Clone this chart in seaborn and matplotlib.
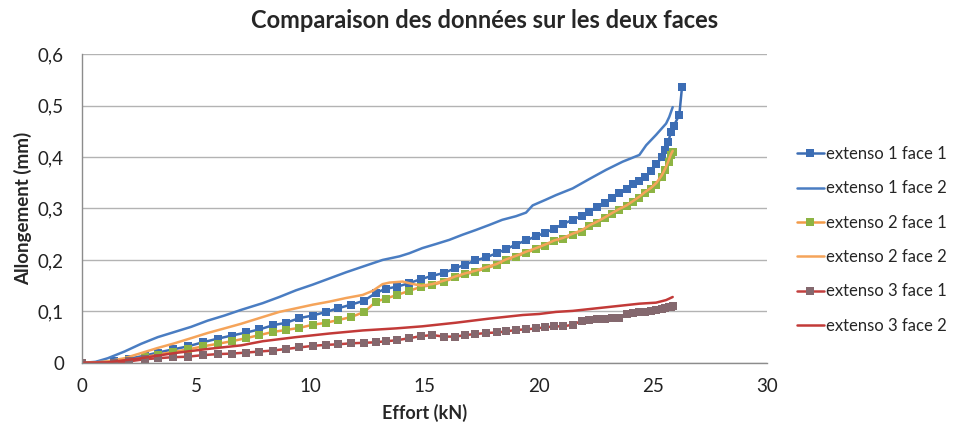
import matplotlib
matplotlib.use("Agg")
import matplotlib.pyplot as plt
from matplotlib.ticker import FuncFormatter
from matplotlib.lines import Line2D
import seaborn as sns
import pandas as pd

# Effort (kN) at each reading of the face-1 gauges
effort_face1 = [0, 1.42, 2.08, 2.74, 3.32, 3.97, 4.63, 5.29, 5.94, 6.55, 7.19, 7.77,
                8.35, 8.94, 9.52, 10.10, 10.69, 11.20, 11.78, 12.36, 12.87, 13.30,
                13.80, 14.33, 14.85, 15.33, 15.86, 16.35, 16.78, 17.22, 17.69, 18.15,
                18.56, 19.00, 19.44, 19.88, 20.28, 20.68, 21.07, 21.48, 21.89, 22.20,
                22.53, 22.90, 23.20, 23.52, 23.84, 24.14, 24.40, 24.65, 24.91, 25.15,
                25.39, 25.54, 25.68, 25.78, 25.86]
effort_ext1_face1 = effort_face1[:-5] + [25.39, 25.54, 25.67, 25.78, 25.90, 26.15, 26.27]

ext1_face1 = [0, 0.003, 0.008, 0.014, 0.020, 0.026, 0.032, 0.040, 0.047, 0.053, 0.059,
              0.065, 0.073, 0.078, 0.087, 0.092, 0.099, 0.106, 0.113, 0.121, 0.136,
              0.144, 0.148, 0.155, 0.163, 0.169, 0.175, 0.184, 0.191, 0.199, 0.205,
              0.213, 0.221, 0.230, 0.238, 0.246, 0.253, 0.261, 0.270, 0.278, 0.286,
              0.294, 0.302, 0.311, 0.320, 0.330, 0.338, 0.347, 0.354, 0.361, 0.372,
              0.386, 0.400, 0.414, 0.430, 0.448, 0.460, 0.482, 0.537]

ext2_face1 = [0, 0.000, 0.005, 0.011, 0.016, 0.021, 0.026, 0.032, 0.037, 0.042, 0.048,
              0.054, 0.060, 0.064, 0.068, 0.074, 0.078, 0.083, 0.089, 0.099, 0.119,
              0.125, 0.132, 0.140, 0.148, 0.151, 0.158, 0.166, 0.172, 0.177, 0.184,
              0.190, 0.199, 0.206, 0.214, 0.221, 0.228, 0.236, 0.240, 0.249, 0.255,
              0.265, 0.272, 0.281, 0.289, 0.297, 0.304, 0.313, 0.321, 0.330, 0.337,
              0.346, 0.361, 0.375, 0.391, 0.404, 0.410]

ext3_face1 = [0, 0.000, 0.003, 0.007, 0.009, 0.011, 0.012, 0.015, 0.017, 0.018, 0.020,
              0.022, 0.024, 0.027, 0.030, 0.033, 0.035, 0.036, 0.038, 0.039, 0.040,
              0.042, 0.044, 0.048, 0.052, 0.054, 0.051, 0.051, 0.054, 0.056, 0.058,
              0.059, 0.061, 0.064, 0.065, 0.067, 0.069, 0.071, 0.071, 0.074, 0.082,
              0.083, 0.085, 0.085, 0.087, 0.087, 0.095, 0.096, 0.098, 0.098, 0.100,
              0.103, 0.105, 0.106, 0.108, 0.109, 0.110]

# Face 2 gauges
effort_ext1_face2 = [0, 0.60, 1.13, 1.86, 2.59, 3.32, 4.05, 4.78, 5.50, 6.24, 6.97, 7.91,
                     8.64, 9.37, 10.10, 10.83, 11.56, 12.29, 13.16, 13.90, 14.33, 14.90,
                     15.50, 16.08, 16.66, 17.23, 17.83, 18.40, 19.00, 19.44, 19.73, 20.30,
                     20.75, 21.48, 22.20, 22.94, 23.67, 24.40, 24.70, 25.13, 25.57, 25.71,
                     25.86]
ext1_face2 = [0, 0.002, 0.009, 0.022, 0.037, 0.050, 0.060, 0.070, 0.082, 0.092, 0.103,
              0.116, 0.128, 0.141, 0.152, 0.164, 0.176, 0.187, 0.200, 0.207, 0.213,
              0.223, 0.231, 0.239, 0.249, 0.258, 0.268, 0.278, 0.285, 0.292, 0.306,
              0.317, 0.326, 0.339, 0.357, 0.375, 0.391, 0.404, 0.423, 0.443, 0.465,
              0.478, 0.497]

effort_ext2_face2 = [0, 0.60, 1.13, 1.86, 2.59, 3.32, 4.05, 4.78, 5.50, 6.24, 6.97, 7.91,
                     8.64, 9.37, 10.10, 10.83, 11.56, 12.29, 12.73, 13.16, 13.46, 14.04,
                     14.40, 14.85, 15.33, 15.86, 16.35, 16.78, 17.22, 17.69, 18.15, 18.56,
                     19.00, 19.44, 19.88, 20.28, 20.68, 21.07, 21.48, 21.89, 22.20, 22.53,
                     22.90, 23.20, 23.52, 23.84, 24.14, 24.40, 24.65, 24.91, 25.15, 25.39,
                     25.54, 25.68, 25.78, 25.86]
ext2_face2 = [0, 0.001, 0.003, 0.009, 0.019, 0.029, 0.038, 0.048, 0.058, 0.067, 0.076,
              0.089, 0.099, 0.106, 0.113, 0.119, 0.126, 0.132, 0.140, 0.153, 0.156,
              0.158, 0.154, 0.150, 0.153, 0.160, 0.168, 0.174, 0.179, 0.186, 0.192,
              0.201, 0.208, 0.216, 0.223, 0.230, 0.238, 0.243, 0.251, 0.258, 0.267,
              0.274, 0.283, 0.291, 0.299, 0.306, 0.315, 0.323, 0.332, 0.340, 0.350,
              0.365, 0.378, 0.393, 0.405, 0.412]

effort_ext3_face2 = [0, 1.13, 2.59, 4.05, 5.50, 6.97, 7.91, 9.37, 10.83, 12.29, 13.75,
                     14.90, 16.37, 17.83, 19.30, 20.02, 20.75, 21.48, 22.94, 24.40, 25.13,
                     25.57, 25.86]
ext3_face2 = [0, 0.001, 0.009, 0.019, 0.027, 0.034, 0.042, 0.050, 0.057, 0.063, 0.067,
              0.071, 0.078, 0.086, 0.093, 0.095, 0.099, 0.101, 0.108, 0.115, 0.117,
              0.122, 0.128]

series_names = ["extenso 1 face 1", "extenso 1 face 2", "extenso 2 face 1",
                "extenso 2 face 2", "extenso 3 face 1", "extenso 3 face 2"]
x_ticks = [0, 5, 10, 15, 20, 25, 30]
y_ticks = [0, 0.1, 0.2, 0.3, 0.4, 0.5, 0.6]

series = [
    (effort_ext1_face1, ext1_face1, dict(color="#3C6DB4", marker="s", mfc="#3C6DB4")),
    (effort_ext1_face2, ext1_face2, dict(color="#4A7DC2", marker=None, mfc=None)),
    (effort_face1, ext2_face1, dict(color="#F29A48", marker="s", mfc="#8DB443")),
    (effort_ext2_face2, ext2_face2, dict(color="#F5A45A", marker=None, mfc=None)),
    (effort_face1, ext3_face1, dict(color="#C2403F", marker="s", mfc="#84686E")),
    (effort_ext3_face2, ext3_face2, dict(color="#C23A38", marker=None, mfc=None)),
]

sns.set_theme(style="white")
plt.rcParams["font.family"] = ["Lato", "DejaVu Sans"]

fig = plt.figure(figsize=(9.70, 4.33), dpi=100)
ax = fig.add_axes([0.0845, 0.162, 0.791 - 0.0845, 0.875 - 0.162])

handles = []
for (xs, ys, st), name in zip(series, series_names):
    df = pd.DataFrame({"Effort": xs, "Allongement": ys})
    kws = dict(color=st["color"], linewidth=1.8, sort=False, estimator=None, ax=ax)
    if st["marker"]:
        kws.update(marker="s", markersize=5.5, markerfacecolor=st["mfc"],
                   markeredgecolor=st["mfc"], markeredgewidth=0)
    sns.lineplot(data=df, x="Effort", y="Allongement", **kws)
    handles.append(Line2D([], [], color=st["color"], linewidth=1.8,
                          marker=st["marker"] or "", markersize=5.5,
                          markerfacecolor=st["mfc"], markeredgecolor=st["mfc"],
                          markeredgewidth=0))

ax.set_xlim(0, 30)
ax.set_ylim(0, 0.6)
ax.set_xticks(x_ticks)
ax.set_yticks(y_ticks)
ax.yaxis.set_major_formatter(FuncFormatter(
    lambda v, _: "0" if abs(v) < 1e-9 else f"{v:.1f}".replace(".", ",")))
ax.xaxis.set_major_formatter(FuncFormatter(lambda v, _: f"{v:.0f}"))

ax.grid(axis="y", color="#B3B3B3", linewidth=1.0)
ax.grid(axis="x", visible=False)
ax.set_axisbelow(True)
for side in ("top", "right"):
    ax.spines[side].set_visible(False)
for side in ("left", "bottom"):
    ax.spines[side].set_color("#8C8C8C")
    ax.spines[side].set_linewidth(1.0)
ax.tick_params(axis="both", which="major", direction="out", length=5, width=1,
               color="#8C8C8C", labelsize=13.5, labelcolor="#222222", pad=6)
ax.tick_params(axis="y", pad=8)

ax.set_xlabel("Effort (kN)", fontsize=13, fontweight="bold", labelpad=6)
ax.set_ylabel("Allongement (mm)", fontsize=13.5, fontweight="bold", labelpad=4)
fig.suptitle("Comparaison des données sur les deux faces", x=0.5, y=0.98,
             fontsize=17, fontweight="bold")

fig.legend(handles, series_names, loc="center left", bbox_to_anchor=(0.8216, 0.446),
           frameon=False, fontsize=12, handlelength=1.6, handletextpad=0.15,
           labelspacing=1.1, borderpad=0, borderaxespad=0)

fig.savefig("out.png", dpi=100)
